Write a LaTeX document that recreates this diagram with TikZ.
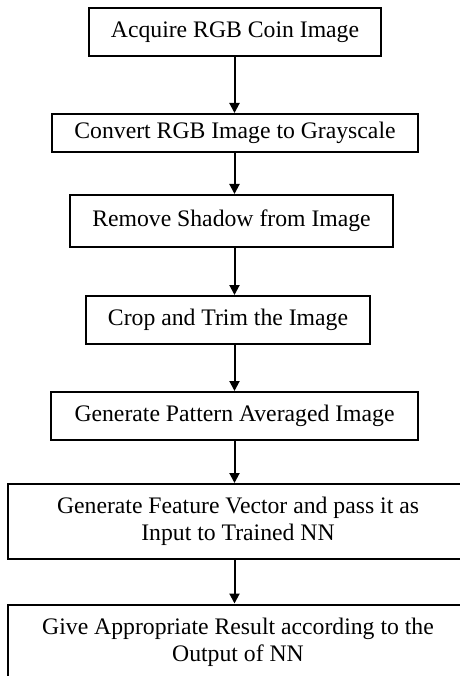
\documentclass[tikz,border=0pt]{standalone}
\usepackage{fontspec}
\setmainfont{Liberation Serif}
\usetikzlibrary{arrows.meta}
\begin{document}
\begin{tikzpicture}[x=1pt,y=-1pt,>={Triangle[length=10pt,width=10pt]},
    stepbox/.style={draw,line width=2pt,inner sep=0pt,align=center,
        font=\fontsize{23.7}{27}\selectfont}]
    \useasboundingbox (0,0) rectangle (459,676);
    \coordinate (axis) at (234.5,0);
    \node[stepbox,minimum width=292,minimum height=48](b1) at (235,32) {Acquire RGB Coin Image};
    \node[stepbox,minimum width=366,minimum height=38](b2) at (235,133) {Convert RGB Image to Grayscale};
    \node[stepbox,minimum width=323,minimum height=52](b3) at (231.5,221) {Remove Shadow from Image};
    \node[stepbox,minimum width=284,minimum height=48](b4) at (228,320) {Crop and Trim the Image};
    \node[stepbox,minimum width=367,minimum height=48](b5) at (234.5,416) {Generate Pattern Averaged Image};
    \node[stepbox,minimum width=460,minimum height=75](b6) at (238,521.5) {Generate Feature Vector and pass it as\\Input to Trained NN};
    \node[stepbox,minimum width=460,minimum height=75](b7) at (238,642) {Give Appropriate Result according to the\\Output of NN};
    \foreach \a/\b in {b1/b2, b2/b3, b3/b4, b4/b5, b5/b6, b6/b7}
    {
        \draw[->,line width=2pt](\a.south -| axis)--(\b.north -| axis);
    }
\end{tikzpicture}
\end{document}
